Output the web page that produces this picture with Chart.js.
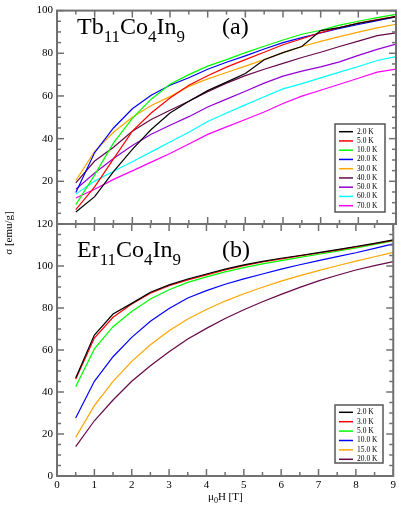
<!DOCTYPE html>
<html>
<head>
<meta charset="utf-8">
<script src="https://cdn.jsdelivr.net/npm/chart.js@4.4.1/dist/chart.umd.min.js"></script>
<style>
  body { margin: 0; background: #fff; }
  #wrap { position: relative; width: 399px; height: 506px; }
  canvas { position: absolute; left: 0; top: 0; }
</style>
</head>
<body>
<div id="wrap">
  <canvas id="tb-chart" width="399" height="506"></canvas>
  <canvas id="er-chart" width="399" height="506"></canvas>
</div>
<script>
// field values (T), shared by both panels
const fields = [0.5, 1, 1.5, 2, 2.5, 3, 3.5, 4, 4.5, 5, 5.5, 6, 6.5, 7, 7.5, 8, 8.5, 9];

// (a) Tb11Co4In9, sigma in emu/g
const tbLabels = ['2.0 K', '5.0 K', '10.0 K', '20.0 K', '30.0 K', '40.0 K', '50.0 K', '60.0 K', '70.0 K'];
const tb2K  = [5.6, 12.8, 24.5, 35, 44.3, 52, 57.5, 62.5, 66.5, 70.5, 77, 80.3, 83.2, 90.6, 92, 94, 95.6, 97.2];
const tb5K  = [6.7, 17.4, 30.5, 43.5, 52, 59, 65, 69.5, 73.5, 77, 80.5, 84, 86.8, 89.7, 92.1, 94.2, 95.8, 97.3];
const tb10K = [9.1, 23, 38, 49.5, 58.5, 65.5, 70, 74, 77, 80.3, 83.3, 86.2, 88.9, 90.8, 93.2, 95, 96.7, 98.2];
const tb20K = [14.8, 33.5, 45, 54, 60.3, 65, 68.5, 72.5, 75.8, 78.8, 82, 85, 87.3, 89.5, 91.6, 93.5, 95.3, 97];
const tb30K = [20.4, 34, 43, 50, 55.5, 59.7, 64.5, 68, 71, 74, 77, 80.3, 83.2, 85.6, 87.8, 89.9, 91.9, 93.6];
const tb40K = [19.3, 29.5, 36, 43.5, 49, 53.3, 57.5, 62, 66, 69.5, 72.5, 75.3, 78, 80.5, 83.2, 85.7, 88.3, 89.6];
const tb50K = [16.3, 23.9, 30.7, 36.8, 42.1, 46.3, 50.3, 54.8, 58.5, 62.2, 66, 69.3, 71.6, 73.6, 76, 79, 81.8, 84.3];
const tb60K = [14, 20.1, 24.7, 29.2, 33.8, 38.4, 43, 48, 52, 55.8, 59.6, 63.3, 65.8, 68.5, 71.2, 73.8, 76.6, 78.4];
const tb70K = [12.2, 16.3, 20.9, 24.9, 29, 33, 37.5, 42, 45.5, 49, 52.5, 56.5, 59.9, 62.7, 65.5, 68.3, 71.2, 72.6];

// (b) Er11Co4In9
const erLabels = ['2.0 K', '3.0 K', '5.0 K', '10.0 K', '15.0 K', '20.0 K'];
const er2K  = [46.7, 67.1, 77.1, 82.2, 87.5, 91, 93.8, 96.2, 98.5, 100.5, 102.2, 103.7, 105, 106.4, 107.8, 109.3, 110.8, 112.4];
const er3K  = [46.1, 65.7, 75.6, 81.9, 87, 90.6, 93.4, 95.8, 98.1, 100.2, 101.9, 103.4, 104.8, 106.2, 107.6, 109.1, 110.6, 112.2];
const er5K  = [42.5, 60.5, 71.1, 78.3, 84.3, 88.7, 92.2, 94.8, 97.2, 99.2, 101, 102.6, 104.1, 105.6, 107.1, 108.6, 110.3, 112];
const er10K = [27.6, 45.1, 56.8, 66, 73.7, 79.8, 84.8, 88.3, 91.3, 93.9, 96.2, 98.5, 100.6, 102.6, 104.5, 106.3, 108.4, 110.5];
const er15K = [18.4, 33.5, 45.1, 54.6, 62.5, 69.2, 74.8, 79.3, 83.3, 86.8, 89.9, 92.8, 95.4, 97.8, 100.1, 102.3, 104.4, 106.5];
const er20K = [14, 26.3, 36.2, 45.1, 52.5, 59.2, 65.2, 70.3, 75, 79.2, 83, 86.5, 89.8, 92.9, 95.6, 98.1, 100.2, 102.1];

const xTickLabels = [0, 1, 2, 3, 4, 5, 6, 7, 8, 9];

const tbColors = ['#000000', '#ff0000', '#00ff00', '#0000ff', '#ffa500', 'rgb(103,7,72)', 'rgb(148,0,211)', '#00ffff', '#ff00ff'];
const erColors = ['#000000', '#ff0000', '#00ff00', '#0000ff', '#ffa500', 'rgb(103,7,72)'];

const FONT = '"Liberation Serif", "Times New Roman", serif';
Chart.defaults.font.family = FONT;
Chart.defaults.font.size = 11;
Chart.defaults.color = '#000';

function toPoints(arr) {
  return fields.map((f, i) => ({ x: f, y: arr[i] }));
}

function makeSets(labels, series, colors) {
  return series.map((s, i) => ({
    label: labels[i],
    data: toPoints(s),
    borderColor: colors[i],
    backgroundColor: colors[i],
    borderWidth: 1.2,
    pointRadius: 0,
    tension: 0,
    fill: false,
  }));
}

// frame with inward major/minor ticks on all four sides
const frame = {
  id: 'frame',
  afterDatasetsDraw(chart, args, o) {
    const { ctx, chartArea: a } = chart;
    const x = chart.scales.x, y = chart.scales.y;
    ctx.save();
    ctx.strokeStyle = '#707070';
    ctx.lineWidth = 1.5;
    const seg = (x1, y1, x2, y2) => { ctx.beginPath(); ctx.moveTo(x1, y1); ctx.lineTo(x2, y2); ctx.stroke(); };
    for (let k = 0; k * o.xMinor <= x.max - x.min + 1e-9; k++) {
      const v = x.min + k * o.xMinor;
      const px = x.getPixelForValue(v);
      const len = Math.abs(v / o.xMajor - Math.round(v / o.xMajor)) < 1e-6 ? 7 : 4;
      seg(px, a.bottom, px, a.bottom - len);
      seg(px, a.top, px, a.top + len);
    }
    for (let k = 0; k * o.yMinor <= y.max - y.min + 1e-9; k++) {
      const v = y.min + k * o.yMinor;
      const py = y.getPixelForValue(v);
      const len = Math.abs(v / o.yMajor - Math.round(v / o.yMajor)) < 1e-6 ? 7 : 4;
      seg(a.left, py, a.left + len, py);
      seg(a.right, py, a.right - len, py);
    }
    ctx.lineWidth = 2;
    ctx.strokeRect(a.left, a.top, a.right - a.left, a.bottom - a.top);
    ctx.restore();
  }
};

// boxed legend inside the plot
const boxLegend = {
  id: 'boxLegend',
  afterDraw(chart, args, o) {
    const ctx = chart.ctx;
    ctx.save();
    ctx.fillStyle = '#fff';
    ctx.fillRect(o.x, o.y, o.w, o.h);
    ctx.strokeStyle = '#555';
    ctx.lineWidth = 1.5;
    ctx.strokeRect(o.x, o.y, o.w, o.h);
    ctx.font = '7.5px ' + FONT;
    ctx.textBaseline = 'middle';
    chart.data.datasets.forEach((ds, i) => {
      const yy = o.y + o.first + i * o.step;
      ctx.strokeStyle = ds.borderColor;
      ctx.lineWidth = 1.5;
      ctx.beginPath(); ctx.moveTo(o.x + 4, yy); ctx.lineTo(o.x + 18, yy); ctx.stroke();
      ctx.fillStyle = '#000';
      ctx.fillText(ds.label, o.x + 22, yy);
    });
    ctx.restore();
  }
};

// texts with subscripts: panel formula, panel tag, axis titles
const texts = {
  id: 'texts',
  afterDraw(chart, args, o) {
    const ctx = chart.ctx;
    ctx.save();
    ctx.fillStyle = '#000';
    ctx.textBaseline = 'alphabetic';
    (o.items || []).forEach(it => {
      ctx.save();
      ctx.translate(it.x, it.y);
      if (it.rotate) ctx.rotate(it.rotate);
      let cx = 0;
      if (it.center) {
        let w = 0;
        it.parts.forEach(p => { ctx.font = (p[1] ? it.sub : it.size) + 'px ' + FONT; w += ctx.measureText(p[0]).width; });
        cx = -w / 2;
      }
      it.parts.forEach(p => {
        ctx.font = (p[1] ? it.sub : it.size) + 'px ' + FONT;
        ctx.fillText(p[0], cx, p[1] ? it.drop : 0);
        cx += ctx.measureText(p[0]).width;
      });
      ctx.restore();
    });
    ctx.restore();
  }
};

function baseOptions(yMax, padTop, padBottom, showX) {
  return {
    responsive: false,
    animation: false,
    events: [],
    layout: { autoPadding: false, padding: { left: 0, right: 3, top: padTop, bottom: padBottom } },
    plugins: { legend: { display: false }, tooltip: { enabled: false } },
    scales: {
      x: {
        type: 'linear', min: 0, max: 9,
        grid: { display: false, drawTicks: false },
        border: { display: false },
        ticks: {
          display: showX, stepSize: 1, padding: 3, maxRotation: 0,
          callback: v => xTickLabels.includes(v) ? String(v) : ''
        },
        afterFit: s => { s.height = showX ? 30 : 0; }
      },
      y: {
        type: 'linear', min: 0, max: yMax,
        grid: { display: false, drawTicks: false },
        border: { display: false },
        ticks: { stepSize: 20, padding: 4, callback: v => (showX || v !== 0) ? String(v) : '' },
        afterFit: s => { s.width = 57; }
      }
    }
  };
}

const tbOpts = baseOptions(100, 5, 282, false);
tbOpts.plugins.frame = { xMinor: 0.5, xMajor: 1, yMinor: 5, yMajor: 20 };
tbOpts.plugins.boxLegend = { x: 335, y: 124, w: 50, h: 88, first: 7.7, step: 9.25 };
tbOpts.plugins.texts = {
  items: [
    { x: 77, y: 34, size: 24, sub: 17, drop: 8,
      parts: [['Tb', 0], ['11', 1], ['Co', 0], ['4', 1], ['In', 0], ['9', 1]] },
    { x: 222, y: 34, size: 24, parts: [['(a)', 0]] },
    { x: 12, y: 233, size: 11, rotate: -Math.PI / 2, center: true, parts: [['σ [emu/g]', 0]] }
  ]
};

new Chart(document.getElementById('tb-chart'), {
  type: 'line',
  data: { datasets: makeSets(tbLabels, [tb2K, tb5K, tb10K, tb20K, tb30K, tb40K, tb50K, tb60K, tb70K], tbColors) },
  options: tbOpts,
  plugins: [frame, boxLegend, texts]
});

const erOpts = baseOptions(120, 224, 0, true);
erOpts.plugins.frame = { xMinor: 0.5, xMajor: 1, yMinor: 5, yMajor: 20 };
erOpts.plugins.boxLegend = { x: 335, y: 405, w: 48, h: 58, first: 7.3, step: 9.4 };
erOpts.plugins.texts = {
  items: [
    { x: 77, y: 257, size: 24, sub: 17, drop: 8,
      parts: [['Er', 0], ['11', 1], ['Co', 0], ['4', 1], ['In', 0], ['9', 1]] },
    { x: 222, y: 257, size: 24, parts: [['(b)', 0]] },
    { x: 208, y: 500, size: 11, sub: 8, drop: 3,
      parts: [['μ', 0], ['0', 1], ['H [T]', 0]] }
  ]
};

new Chart(document.getElementById('er-chart'), {
  type: 'line',
  data: { datasets: makeSets(erLabels, [er2K, er3K, er5K, er10K, er15K, er20K], erColors) },
  options: erOpts,
  plugins: [frame, boxLegend, texts]
});
</script>
</body>
</html>
